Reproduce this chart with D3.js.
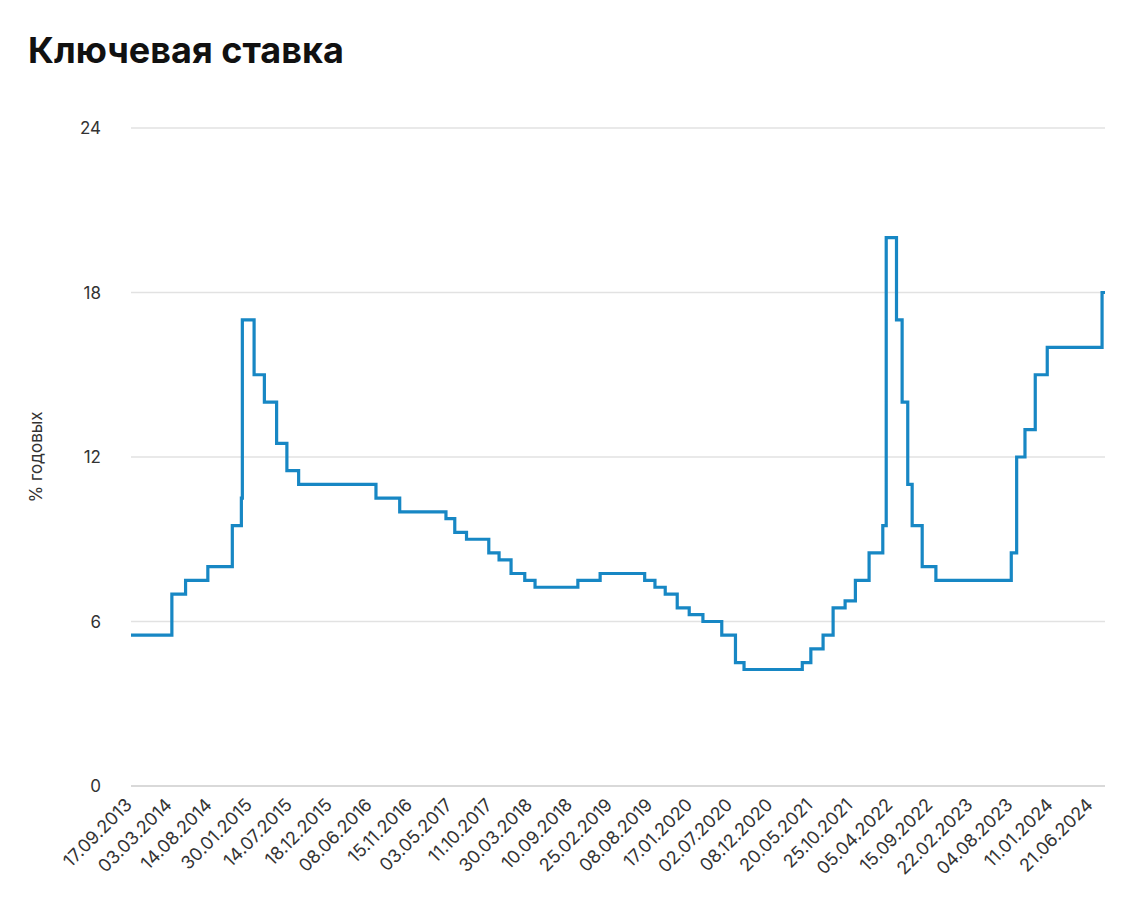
<!DOCTYPE html>
<html><head><meta charset="utf-8">
<script src="https://cdn.jsdelivr.net/npm/d3@7"></script>
<style>body{margin:0;background:#fff;font-family:Inter,"Noto Sans",sans-serif}</style>
</head><body><svg id="chart" width="1132" height="908"></svg>
<script>
// дата изменения ставки и новое значение
var changeDates = ["13.09.2013","03.03.2014","28.04.2014","28.07.2014","05.11.2014","12.12.2014","16.12.2014",
  "02.02.2015","16.03.2015","05.05.2015","16.06.2015","03.08.2015","14.06.2016","19.09.2016","27.03.2017",
  "02.05.2017","19.06.2017","18.09.2017","30.10.2017","18.12.2017","12.02.2018","26.03.2018","17.09.2018",
  "17.12.2018","17.06.2019","29.07.2019","09.09.2019","28.10.2019","16.12.2019","10.02.2020","27.04.2020",
  "22.06.2020","27.07.2020","22.03.2021","26.04.2021","15.06.2021","26.07.2021","13.09.2021","25.10.2021",
  "20.12.2021","14.02.2022","28.02.2022","11.04.2022","04.05.2022","27.05.2022","14.06.2022","25.07.2022",
  "19.09.2022","24.07.2023","15.08.2023","18.09.2023","30.10.2023","18.12.2023","29.07.2024","10.08.2024"];
var rates = [5.5,7,7.5,8,9.5,10.5,17,15,14,12.5,11.5,11,10.5,10,9.75,9.25,9,8.5,8.25,7.75,7.5,7.25,7.5,
  7.75,7.5,7.25,7,6.5,6.25,6,5.5,4.5,4.25,4.5,5,5.5,6.5,6.75,7.5,8.5,9.5,20,17,14,11,9.5,8,7.5,8.5,12,13,
  15,16,18,18];
var tickLabels = ["17.09.2013","03.03.2014","14.08.2014","30.01.2015","14.07.2015","18.12.2015","08.06.2016",
  "15.11.2016","03.05.2017","11.10.2017","30.03.2018","10.09.2018","25.02.2019","08.08.2019","17.01.2020",
  "02.07.2020","08.12.2020","20.05.2021","25.10.2021","05.04.2022","15.09.2022","22.02.2023","04.08.2023",
  "11.01.2024","21.06.2024"];
var yTicks = [0,6,12,18,24];

var parse = d3.timeParse("%d.%m.%Y");
var data = changeDates.map(function(d,i){ return {date: parse(d), value: rates[i]}; });
data[0].date = parse("17.09.2013");

var svg = d3.select("#chart");
var mLeft = 131, mRight = 1105, mTop = 128, mBottom = 786;
var x = d3.scaleTime().domain([parse("17.09.2013"), parse("10.08.2024")]).range([mLeft, mRight]);
var y = d3.scaleLinear().domain([0,24]).range([mBottom, mTop]);

svg.append("text").attr("x",28).attr("y",63).attr("font-size",36).attr("font-weight",700)
  .attr("fill","#111").text("Ключевая ставка");

svg.append("g").selectAll("line").data(yTicks).join("line")
  .attr("x1",mLeft).attr("x2",mRight).attr("y1",d=>y(d)).attr("y2",d=>y(d))
  .attr("stroke",d=>d===0?"#ccc":"#e2e2e2").attr("stroke-width",1.3);
svg.append("g").selectAll("text").data(yTicks).join("text")
  .attr("x",101).attr("y",d=>y(d)+6).attr("text-anchor","end").attr("font-size",17).attr("fill","#333")
  .text(d=>d);
svg.append("text").attr("transform","translate(42,457) rotate(-90)").attr("text-anchor","middle")
  .attr("font-size",17).attr("fill","#333").text("% годовых");

// подписи дат идут равномерно
var step = (1092 - mLeft) / (tickLabels.length - 1);
svg.append("g").selectAll("text").data(tickLabels).join("text")
  .attr("transform",(d,i)=>"translate(" + (mLeft + i*step + 2) + ",806) rotate(-45)")
  .attr("text-anchor","end").attr("font-size",18).attr("fill","#333").text(d=>d);

var line = d3.line().x(d=>x(d.date)).y(d=>y(d.value)).curve(d3.curveStepAfter);
svg.append("path").datum(data).attr("d",line).attr("fill","none")
  .attr("stroke","#1787c4").attr("stroke-width",3.2);
</script></body></html>
